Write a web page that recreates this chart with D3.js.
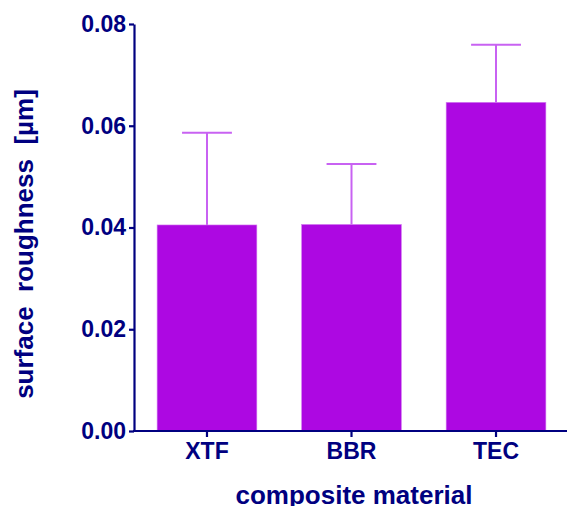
<!DOCTYPE html>
<html>
<head>
<meta charset="utf-8">
<script src="https://cdn.jsdelivr.net/npm/d3@7"></script>
<style>
  body { margin: 0; background: #fff; }
  text { font-family: "Liberation Sans", Arial, sans-serif; font-weight: bold; fill: #000080; }
</style>
</head>
<body>
<svg width="569" height="506"></svg>
<script>
// values
const materials = ["XTF", "BBR", "TEC"];
const means = [0.0405, 0.0406, 0.0646];
const sds = [0.0181, 0.0119, 0.0113];
const yTicks = [0, 0.02, 0.04, 0.06, 0.08];

const svg = d3.select("svg");
const axisColor = "#000080";

// scales
const x = d3.scaleBand()
  .domain(materials)
  .range([134, 569])
  .paddingInner(0.31)
  .paddingOuter(0.16);
const y = d3.scaleLinear().domain([0, 0.08]).range([431, 24]);

const data = materials.map((m, i) => ({ name: m, mean: means[i], sd: sds[i] }));

// error bars (drawn under bars)
const err = svg.append("g").attr("stroke", "#c862f2").attr("stroke-width", 2);
err.selectAll(".stem")
  .data(data)
  .enter()
  .append("line")
  .attr("x1", (d) => x(d.name) + x.bandwidth() / 2)
  .attr("x2", (d) => x(d.name) + x.bandwidth() / 2)
  .attr("y1", (d) => y(d.mean))
  .attr("y2", (d) => y(d.mean + d.sd));
err.selectAll(".cap")
  .data(data)
  .enter()
  .append("line")
  .attr("x1", (d) => x(d.name) + x.bandwidth() / 4)
  .attr("x2", (d) => x(d.name) + x.bandwidth() * 3 / 4)
  .attr("y1", (d) => y(d.mean + d.sd))
  .attr("y2", (d) => y(d.mean + d.sd));

// bars
svg.selectAll(".bar")
  .data(data)
  .enter()
  .append("rect")
  .attr("class", "bar")
  .attr("x", (d) => x(d.name))
  .attr("width", x.bandwidth())
  .attr("y", (d) => y(d.mean))
  .attr("height", (d) => y(0) - y(d.mean))
  .attr("fill", "#ad08e2")
  .attr("stroke", "#d27cf0")
  .attr("stroke-width", 0.6);

// y axis
const yAxis = svg.append("g")
  .attr("transform", "translate(134,0)")
  .call(d3.axisLeft(y).tickValues(yTicks).tickFormat(d3.format(".2f")).tickSize(5).tickSizeOuter(0).tickPadding(3));
yAxis.select(".domain").attr("stroke", axisColor).attr("stroke-width", 2.2);
yAxis.selectAll(".tick line").attr("stroke", axisColor).attr("stroke-width", 2.2);
yAxis.selectAll(".tick text").style("font-size", "23px").attr("fill", axisColor);

// x axis
const xAxis = svg.append("g")
  .attr("transform", "translate(0," + y(0) + ")")
  .call(d3.axisBottom(x).tickSize(6).tickSizeOuter(0).tickPadding(6));
xAxis.select(".domain").attr("d", "M133,0H567").attr("stroke", axisColor).attr("stroke-width", 2.2);
xAxis.selectAll(".tick line").attr("stroke", axisColor).attr("stroke-width", 2.2);
xAxis.selectAll(".tick text").style("font-size", "23px").attr("fill", axisColor);

// axis titles
svg.append("text")
  .attr("x", 354)
  .attr("y", 504)
  .attr("text-anchor", "middle")
  .style("font-size", "26px")
  .text("composite material");

svg.append("text")
  .attr("transform", "translate(33,244) rotate(-90)")
  .attr("text-anchor", "middle")
  .attr("xml:space", "preserve")
  .style("white-space", "pre")
  .style("font-size", "26px")
  .text("surface  roughness  [\u00b5m]");
</script>
</body>
</html>
